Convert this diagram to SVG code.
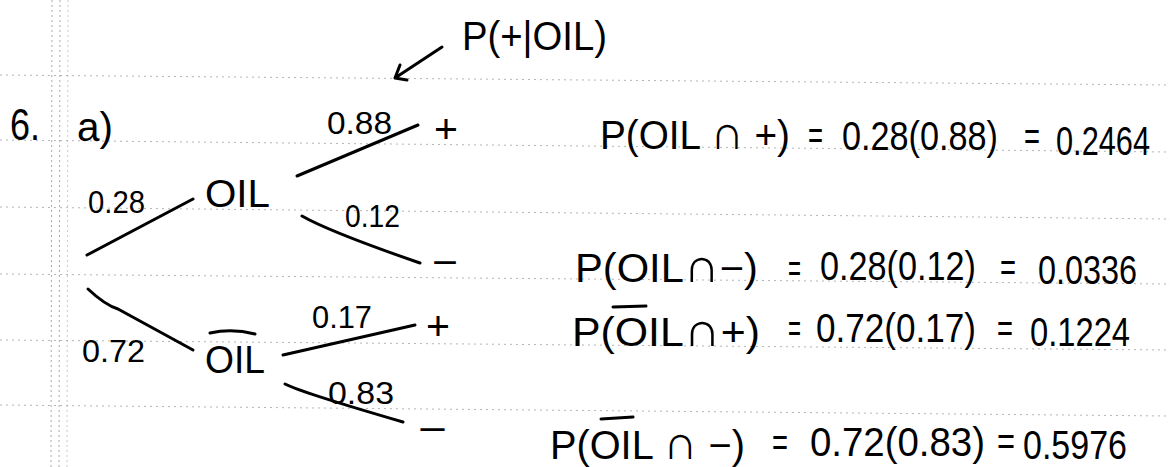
<svg xmlns="http://www.w3.org/2000/svg" width="1170" height="467" viewBox="0 0 1170 467">
<style>
.rule{stroke:#b4b4b4;stroke-width:1;stroke-dasharray:2 4;fill:none}
.margin{stroke:#a8a8a8;stroke-width:1;stroke-dasharray:2 3;fill:none}
.ink{stroke:#000;stroke-width:3;fill:none;stroke-linecap:round;stroke-linejoin:round}
text{font-family:"Liberation Sans","DejaVu Sans",sans-serif;fill:#000}
.lbl{font-size:32px}
.node{font-size:38px}
.eq{font-size:40px}
.cap{font-size:48px}
</style>
<rect width="1170" height="467" fill="#fff"/>
<g id="paper">
<path class="rule" d="M0 75 L1170 85"/>
<path class="rule" d="M0 140 L1170 152"/>
<path class="rule" d="M0 207 L1170 219"/>
<path class="rule" d="M0 274 L1170 284"/>
<path class="rule" d="M0 340 L1170 350"/>
<path class="rule" d="M0 405 L1170 416"/>
<path class="margin" d="M52 0 L51 467"/>
<path class="margin" d="M60 0 L59 467"/>
<path class="margin" d="M68 0 L67 467" opacity="0.6"/>
</g>
<g id="title">
<text x="10" y="140" font-size="44" textLength="30" lengthAdjust="spacingAndGlyphs">6.</text>
<text x="77" y="141" font-size="40" textLength="36" lengthAdjust="spacingAndGlyphs">a)</text>
</g>
<g id="connectors">
<path class="ink" d="M87 255 L193 199"/>
<path class="ink" d="M88 289 Q105 305 118 309 L193 350"/>
<path class="ink" d="M297 176 L418 125"/>
<path class="ink" d="M302 216 Q330 232 420 263"/>
<path class="ink" d="M283 355 L415 325"/>
<path class="ink" d="M285 384 Q300 392 403 422"/>
<text class="lbl" x="88" y="213" textLength="57" lengthAdjust="spacingAndGlyphs">0.28</text>
<text class="lbl" x="82" y="362" textLength="63" lengthAdjust="spacingAndGlyphs">0.72</text>
<text class="lbl" x="327" y="134" textLength="65" lengthAdjust="spacingAndGlyphs">0.88</text>
<text class="lbl" x="345" y="227" font-size="28" textLength="55" lengthAdjust="spacingAndGlyphs">0.12</text>
<text class="lbl" x="312" y="328" textLength="60" lengthAdjust="spacingAndGlyphs">0.17</text>
<text class="lbl" x="328" y="404" textLength="66" lengthAdjust="spacingAndGlyphs">0.83</text>
</g>
<g id="node-oil">
<text class="node" x="205" y="207" textLength="65" lengthAdjust="spacingAndGlyphs">OIL</text>
</g>
<g id="node-notoil">
<text class="node" x="205" y="373" textLength="60" lengthAdjust="spacingAndGlyphs">OIL</text>
<path class="ink" d="M210 333 Q232 328 255 334"/>
</g>
<g id="node-oil-pos">
<text class="eq" x="434" y="143" textLength="24" lengthAdjust="spacingAndGlyphs">+</text>
</g>
<g id="node-oil-neg">
<text class="eq" x="432" y="276" textLength="26" lengthAdjust="spacingAndGlyphs">−</text>
</g>
<g id="node-notoil-pos">
<text class="eq" x="426" y="340" textLength="24" lengthAdjust="spacingAndGlyphs">+</text>
</g>
<g id="node-notoil-neg">
<text class="eq" x="418" y="443" textLength="29" lengthAdjust="spacingAndGlyphs">−</text>
</g>
<g id="annotation">
<text class="eq" x="462" y="50" textLength="145" lengthAdjust="spacingAndGlyphs">P(+|OIL)</text>
<path class="ink" d="M442 47 L395 78 M400 65 L395 78 L407 80"/>
</g>
<g id="equations">
<text class="eq" x="600" y="149" textLength="190" lengthAdjust="spacingAndGlyphs">P(OIL <tspan class="cap">∩</tspan> +)</text>
<text class="eq" x="808" y="149" textLength="15" lengthAdjust="spacingAndGlyphs">=</text>
<text class="eq" x="842" y="150" textLength="156" lengthAdjust="spacingAndGlyphs">0.28(0.88)</text>
<text class="eq" x="1024" y="150" textLength="16" lengthAdjust="spacingAndGlyphs">=</text>
<text class="eq" x="1056" y="155" textLength="94" lengthAdjust="spacingAndGlyphs">0.2464</text>

<text class="eq" x="575" y="282" textLength="183" lengthAdjust="spacingAndGlyphs">P(OIL<tspan class="cap">∩</tspan>−)</text>
<text class="eq" x="788" y="282" textLength="13" lengthAdjust="spacingAndGlyphs">=</text>
<text class="eq" x="820" y="280" textLength="156" lengthAdjust="spacingAndGlyphs">0.28(0.12)</text>
<text class="eq" x="1000" y="281" textLength="16" lengthAdjust="spacingAndGlyphs">=</text>
<text class="eq" x="1038" y="284" textLength="99" lengthAdjust="spacingAndGlyphs">0.0336</text>

<text class="eq" x="572" y="346" textLength="188" lengthAdjust="spacingAndGlyphs">P(OIL<tspan class="cap">∩</tspan>+)</text>
<path class="ink" d="M613 307 L646 306"/>
<text class="eq" x="788" y="342" textLength="13" lengthAdjust="spacingAndGlyphs">=</text>
<text class="eq" x="816" y="342" textLength="160" lengthAdjust="spacingAndGlyphs">0.72(0.17)</text>
<text class="eq" x="997" y="342" textLength="16" lengthAdjust="spacingAndGlyphs">=</text>
<text class="eq" x="1030" y="346" textLength="100" lengthAdjust="spacingAndGlyphs">0.1224</text>

<text class="eq" x="550" y="459" textLength="195" lengthAdjust="spacingAndGlyphs">P(OIL <tspan class="cap">∩</tspan> −)</text>
<path class="ink" d="M601 419 L633 417"/>
<text class="eq" x="772" y="456" textLength="16" lengthAdjust="spacingAndGlyphs">=</text>
<text class="eq" x="810" y="456" textLength="175" lengthAdjust="spacingAndGlyphs">0.72(0.83)</text>
<text class="eq" x="997" y="455" textLength="18" lengthAdjust="spacingAndGlyphs">=</text>
<text class="eq" x="1023" y="459" textLength="104" lengthAdjust="spacingAndGlyphs">0.5976</text>
</g>
</svg>
